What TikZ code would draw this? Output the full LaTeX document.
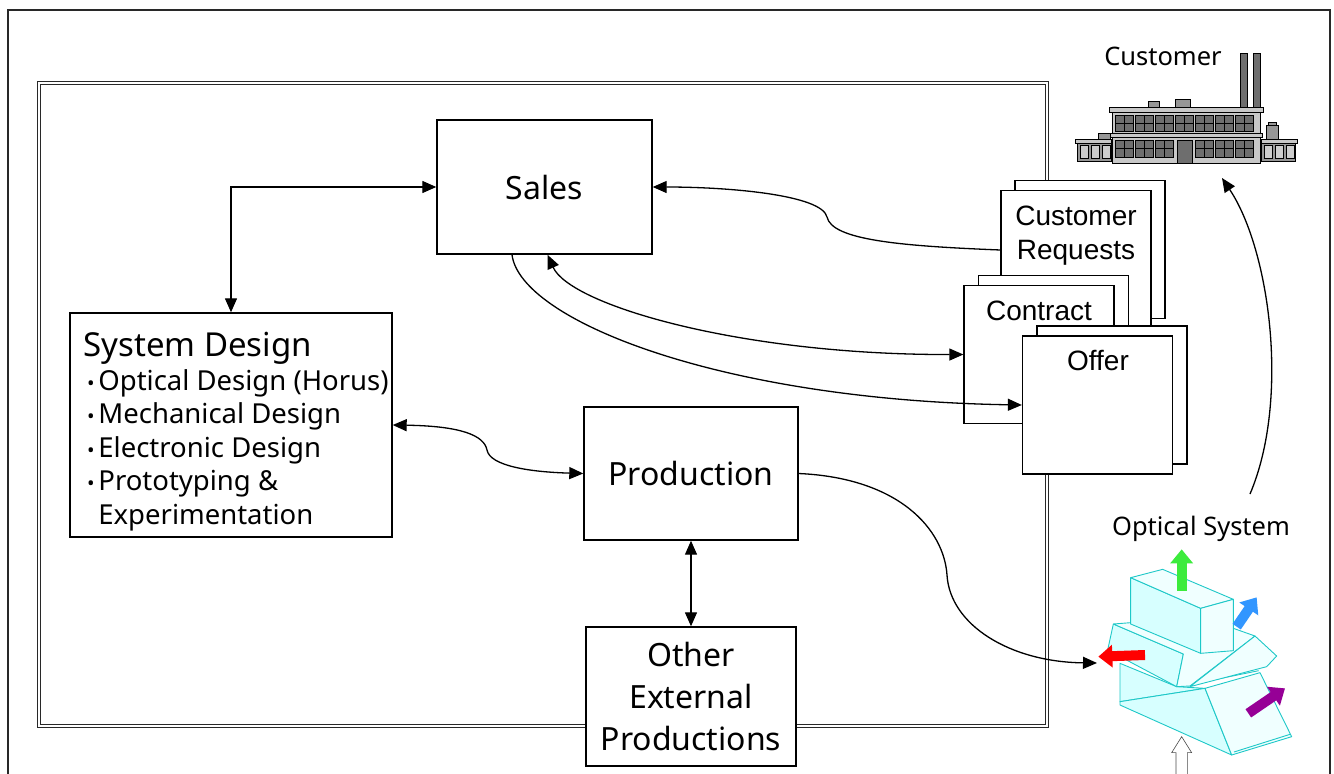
\documentclass[tikz,border=0pt]{standalone}
\usepackage{fontspec}
\setmainfont{Noto Sans}
\newfontfamily\arialfont{Liberation Sans}
\usetikzlibrary{arrows.meta, positioning, calc}

\definecolor{frame1}{RGB}{40,40,40}
\definecolor{wall1}{RGB}{200,200,200}
\definecolor{wall2}{RGB}{150,150,150}
\definecolor{pane1}{RGB}{110,110,110}
\definecolor{glass1}{RGB}{205,205,205}
\definecolor{cyan1}{RGB}{30,200,200}
\definecolor{cyanA}{RGB}{215,255,255}
\definecolor{cyanB}{RGB}{240,255,255}
\definecolor{green1}{RGB}{60,235,60}
\definecolor{blue1}{RGB}{50,150,255}
\definecolor{red1}{RGB}{255,0,0}
\definecolor{purple1}{RGB}{150,0,150}

\newcommand{\sditem}[1]{\hspace*{10pt}\makebox[15pt][c]{\fontsize{20}{20}\selectfont •}#1}

\tikzset{
  unit/.style={draw, fill=white, line width=1.4pt, inner sep=0pt, align=center,
    font=\fontsize{32}{42}\selectfont},
  sheet/.style={draw, fill=white, line width=1.3pt, inner sep=0pt,
    minimum width=150pt, minimum height=138pt},
  sheettext/.style={font=\arialfont\fontsize{28}{34}\selectfont, align=center, inner sep=0pt},
  caption/.style={font=\fontsize{25.5}{30}\selectfont, inner sep=0pt},
  flow/.style={line width=1.3pt},
  facet/.style={draw=cyan1, line width=0.9pt, line join=round},
  beam/.style={line width=10pt, -{Triangle[length=14pt,width=22pt]}},
}

\begin{document}
\begin{tikzpicture}[x=1pt, y=-1pt, >={Triangle[length=14pt,width=12pt]}]
\useasboundingbox (0,0) rectangle (1334,774);

% frames
\draw[frame1, line width=2pt] (8,10) rectangle (1330,800);
\draw[frame1, double=white, double distance=2.2pt, line width=1.1pt] (39,83) rectangle (1047,726);

% company units
\node[unit, minimum width=215pt, minimum height=134pt] (sales) at (544.5,187) {Sales};
\node[unit, minimum width=322pt, minimum height=224pt, align=left,
  font=\fontsize{27.5}{33.5}\selectfont] (design) at (231,425)
  {\rule{0pt}{38pt}\hspace*{10pt}{\fontsize{33}{36}\selectfont System Design}\\
   \sditem{Optical Design (Horus)}\\
   \sditem{Mechanical Design}\\
   \sditem{Electronic Design}\\
   \sditem{Prototyping \&}\\
   \hspace*{25pt}Experimentation};
\node[unit, minimum width=214pt, minimum height=133pt] (production) at (691,473.5) {Production};
\node[unit, minimum width=210pt, minimum height=139pt] (other) at (691,696.5) {Other\\External\\Productions};

% document stacks
\node[sheet] (crb) at (1090,249.5) {};
\node[sheet] (crf) at (1076,259.5) {};
\node[sheettext] (crtext) at (1076,236) {Customer\\Requests};
\node[sheet] (contb) at (1053.5,344.5) {};
\node[sheet] (contf) at (1039,354.5) {};
\node[sheettext] (conttext) at (1039,311) {Contract};
\node[sheet] (offb) at (1112,395) {};
\node[sheet] (offf) at (1097.5,405) {};
\node[sheettext] (offtext) at (1098,361) {Offer};

% customer plant
\node[caption] (customer) at (1163,56) {Customer};
\begin{scope}[draw=black, line width=0.6pt]
  \filldraw[fill=pane1] (1240,53) rectangle (1247,108) (1253,53) rectangle (1260,108);
  \filldraw[fill=wall1] (1075,139) rectangle (1111,143) (1261,139) rectangle (1297,143);
  \filldraw[fill=wall2] (1077,143) rectangle (1111,161) (1261,143) rectangle (1295,161);
  \filldraw[fill=wall2] (1098,133) rectangle (1110,139);
  \filldraw[fill=wall2] (1266,125) rectangle (1278,139);
  \filldraw[fill=wall2] (1268,122) rectangle (1276,125);
  \foreach \x in {1080,1091,1102,1264,1275,1286}
    \filldraw[fill=glass1] (\x,145) rectangle ++(8,13);
  \filldraw[fill=wall2] (1148,101) rectangle (1159,107) (1175,99) rectangle (1190,107);
  \filldraw[fill=wall1] (1109,107) rectangle (1263,112);
  \filldraw[fill=wall1] (1112,112) rectangle (1260,163);
  \filldraw[fill=wall1] (1110,133) rectangle (1262,137);
  \foreach \x in {1115,1135,...,1235} {
    \filldraw[fill=pane1] (\x,115) rectangle ++(18,16);
    \draw ({\x+9},115) -- ++(0,16) (\x,123) -- ++(18,0);
  }
  \foreach \x in {1115,1135,1155,1195,1215,1235} {
    \filldraw[fill=pane1] (\x,140) rectangle ++(18,17);
    \draw ({\x+9},140) -- ++(0,17) (\x,148.5) -- ++(18,0);
  }
  \filldraw[fill=pane1] (1177,140) rectangle (1192,163);
\end{scope}
\coordinate (plant) at (1222,178);

% optical system
\node[caption] (optlabel) at (1201,529) {Optical System};
\coordinate (optout) at (1250,494);
\coordinate (optin) at (1097,663);
\begin{scope}[shift={(1080,500)}, scale=1/3]
  % base prism
  \filldraw[facet, fill=cyanA] (120,490) -- (290,560) -- (375,565) -- (120,605) -- cycle;
  \filldraw[facet, fill=cyanA] (120,605) -- (375,565) -- (455,765) -- (120,615) -- cycle;
  \filldraw[facet, fill=cyanB] (375,565) -- (540,518) -- (635,710) -- (455,765) -- cycle;
  \draw[facet] (462,756) -- (630,703) (335,553) -- (536,512);
  % middle slab
  \filldraw[facet, fill=cyanA] (100,372) -- (83,450) -- (290,560) -- (310,462) -- cycle;
  \filldraw[facet, fill=cyanB] (100,372) -- (152,368) -- (460,385) -- (525,408)
    -- (330,558) -- (290,560) -- (310,462) -- cycle;
  \filldraw[facet, fill=cyanB] (525,408) -- (590,468) -- (560,500) -- (330,560) -- cycle;
  % top block
  \filldraw[facet, fill=cyanA] (152,233) -- (362,325) -- (362,460) -- (152,372) -- cycle;
  \filldraw[facet, fill=cyanB] (152,233) -- (248,208) -- (460,298) -- (362,325) -- cycle;
  \filldraw[facet, fill=cyanB] (362,325) -- (460,298) -- (460,452) -- (362,460) -- cycle;
  % beams
  \draw[beam, green1] (305,272) -- (305,148);
  \draw[beam, blue1] (470,380) -- (530,292);
  \draw[beam, red1] (195,465) -- (55,470);
  \draw[beam, purple1] (505,640) -- (615,565);
  \filldraw[fill=white, draw=black!70, line width=0.6pt] (288,840) -- (288,758) -- (275,758)
    -- (305,710) -- (335,758) -- (322,758) -- (322,840);
\end{scope}

% connectors
\draw[flow, <->] (design.north) |- (sales.west);
\draw[flow, ->] ([yshift=9.5pt]crf.west) .. controls (900,246) and (832,240) .. (827,217)
  .. controls (822,195) and (730,187) .. (sales.east);
\draw[flow, <->] ([xshift=3pt]sales.south) .. controls (570,305) and (740,355) .. (contf.west);
\draw[flow, ->] ([xshift=-32.5pt]sales.south) .. controls (520,320) and (720,400) .. (offf.west);
\draw[flow, <->] (design.east) .. controls (460,426) and (484,435) .. (487,450)
  .. controls (490,466) and (530,472) .. (production.west);
\draw[flow, ->] (production.east) .. controls (900,478) and (944,530) .. (947,575)
  .. controls (950,625) and (1010,662) .. (optin);
\draw[flow, <->] (production.south) -- (other.north);
\draw[flow, ->] (optout) .. controls (1290,400) and (1270,250) .. (plant);
\end{tikzpicture}
\end{document}
